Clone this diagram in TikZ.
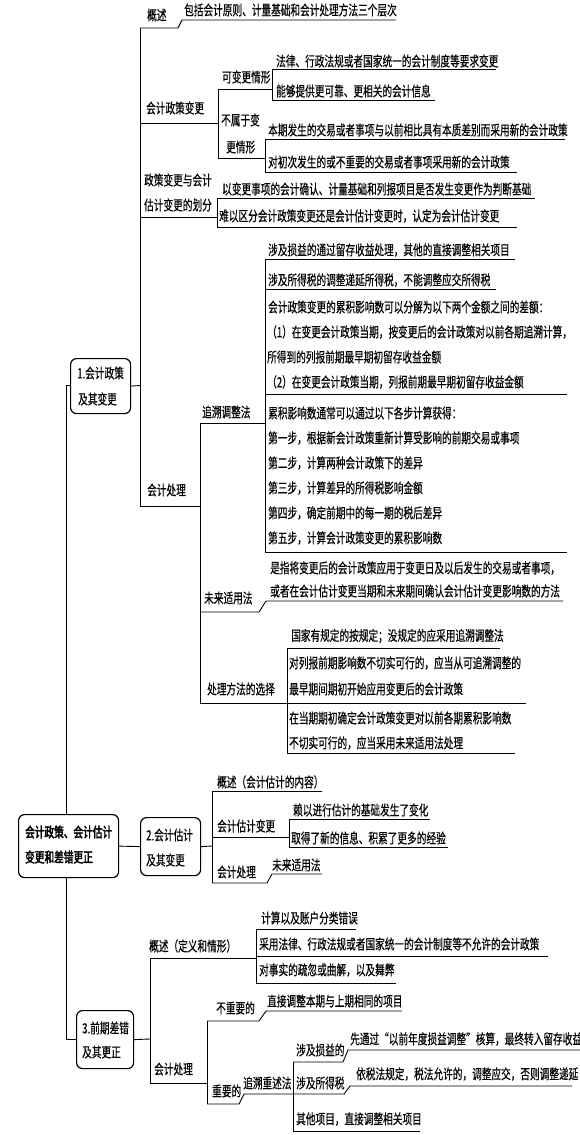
\documentclass[tikz,border=0pt]{standalone}
\usepackage{fontspec}
\setmainfont{Noto Sans CJK SC}[FakeStretch=0.69,FakeBold=0.4]
\newfontfamily\rootfont{Noto Sans CJK SC}[FakeStretch=0.69,FakeBold=2.6]
\begin{document}
\begin{tikzpicture}[x=1pt,y=-1pt,
  t/.style={anchor=west,inner sep=0pt,font=\fontsize{14}{16}\selectfont},
  ln/.style={line width=0.9pt,line join=miter},
  bx/.style={draw,rounded corners=6pt,line width=1.2pt,fill=white,anchor=north west,inner sep=0pt}]
\fill[white] (0,0) rectangle (580,1135);
\useasboundingbox (0,0) rectangle (580,1135);

% root spine
\draw[ln] (70,385.5) -- (66,385.5) -- (66,1039) -- (76,1039);

% ===== section 1 =====
\node[t] (a1) at (147,15) {概述};
\node[t] (a2) at (184,10) {包括会计原则、计量基础和会计处理方法三个层次};
\draw[ln] (140,28) -- (178,28) -- (182,20) -- (396,20);
\draw[ln] (140,28) -- (140,506);

\node[t] (a3) at (146,108) {会计政策变更};
\draw[ln] (140,123) -- (218,123);
\draw[ln] (218,89) -- (218,158);
\node[t] (a4) at (222,77) {可变更情形};
\draw[ln] (218,89) -- (272,89);
\draw[ln] (272,69) -- (272,100);
\node[t] (a5) at (276,61) {法律、行政法规或者国家统一的会计制度等要求变更};
\draw[ln] (272,69) -- (496,69);
\node[t] (a6) at (276,91) {能够提供更可靠、更相关的会计信息};
\draw[ln] (272,100) -- (435,100);
\node[t] (a7) at (221,120) {不属于变};
\node[t] (a7b) at (226,147) {更情形};
\draw[ln] (218,158) -- (265,158);
\draw[ln] (265,139) -- (265,172);
\node[t] (a8) at (268,130) {本期发生的交易或者事项与以前相比具有本质差别而采用新的会计政策};
\draw[ln] (265,139) -- (565,139);
\node[t] (a9) at (268,162) {对初次发生的或不重要的交易或者事项采用新的会计政策};
\draw[ln] (265,172) -- (517,172);

\node[t] (a10) at (144,180) {政策变更与会计};
\node[t] (a10b) at (144,205) {估计变更的划分};
\draw[ln] (140,217) -- (217,217);
\draw[ln] (217,198) -- (217,227);
\node[t] (a11) at (222,189) {以变更事项的会计确认、计量基础和列报项目是否发生变更作为判断基础};
\draw[ln] (217,198) -- (535,198);
\node[t] (a12) at (219,216) {难以区分会计政策变更还是会计估计变更时，认定为会计估计变更};
\draw[ln] (217,227) -- (517,227);

\node[t] (a13) at (147,490) {会计处理};
\draw[ln] (140,506) -- (200,506);
\draw[ln] (200,423) -- (200,703);
\node[t] (a14) at (202,412) {追溯调整法};
\draw[ln] (200,423) -- (265,423);
\draw[ln] (265,259) -- (265,552);
\node[t] (a15) at (268,250) {涉及损益的通过留存收益处理，其他的直接调整相关项目};
\draw[ln] (265,259) -- (515,259);
\node[t] (a16) at (268,280) {涉及所得税的调整递延所得税，不能调整应交所得税};
\draw[ln] (265,289) -- (496,289);
\node[t] (a17) at (268,307) {会计政策变更的累积影响数可以分解为以下两个金额之间的差额：};
\node[t] (a17b) at (267,332) {（1）在变更会计政策当期，按变更后的会计政策对以前各期追溯计算，};
\node[t] (a17c) at (267,357) {所得到的列报前期最早期初留存收益金额};
\node[t] (a17d) at (267,382) {（2）在变更会计政策当期，列报前期最早期初留存收益金额};
\draw[ln] (265,394) -- (567,394);
\node[t] (a18) at (268,413) {累积影响数通常可以通过以下各步计算获得：};
\node[t] (a18a) at (268,438) {第一步，根据新会计政策重新计算受影响的前期交易或事项};
\node[t] (a18b) at (268,463) {第二步，计算两种会计政策下的差异};
\node[t] (a18c) at (268,488) {第三步，计算差异的所得税影响金额};
\node[t] (a18d) at (268,513) {第四步，确定前期中的每一期的税后差异};
\node[t] (a18e) at (268,538) {第五步，计算会计政策变更的累积影响数};
\draw[ln] (265,552) -- (567,552);

\node[t] (a20) at (270,568) {是指将变更后的会计政策应用于变更日及以后发生的交易或者事项，};
\node[t] (a20b) at (270,591) {或者在会计估计变更当期和未来期间确认会计估计变更影响数的方法};
\node[t] (a21) at (204,598) {未来适用法};
\draw[ln] (200,612) -- (259,612) -- (266,601) -- (563,601);

\node[t] (a22) at (291,636) {国家有规定的按规定；没规定的应采用追溯调整法};
\draw[ln] (287,648) -- (500,648);
\draw[ln] (287,648) -- (287,753);
\node[t] (a23) at (289,663) {对列报前期影响数不切实可行的，应当从可追溯调整的};
\node[t] (a23b) at (289,689) {最早期间期初开始应用变更后的会计政策};
\draw[ln] (287,703) -- (526,703);
\node[t] (a24) at (207,689) {处理方法的选择};
\draw[ln] (200,703) -- (287,703);
\node[t] (a25) at (289,718) {在当期期初确定会计政策变更对以前各期累积影响数};
\node[t] (a25b) at (289,743) {不切实可行的，应当采用未来适用法处理};
\draw[ln] (287,753) -- (515,753);

% ===== section 2 =====
\draw[ln] (212,791) -- (212,883);
\node[t] (c1) at (217,782) {概述（会计估计的内容）};
\draw[ln] (212,791) -- (322,791);
\node[t] (c2) at (217,826) {会计估计变更};
\draw[ln] (212,837) -- (289,837);
\draw[ln] (289,819) -- (289,847);
\node[t] (c3) at (293,810) {赖以进行估计的基础发生了变化};
\draw[ln] (289,819) -- (430,819);
\node[t] (c4) at (291,838) {取得了新的信息、积累了更多的经验};
\draw[ln] (289,847) -- (448,847);
\node[t] (c5) at (217,872) {会计处理};
\node[t] (c6) at (272,865) {未来适用法};
\draw[ln] (212,883) -- (267,883) -- (272,874) -- (322,874);

% ===== section 3 =====
\draw[ln] (150,958) -- (150,1083);
\node[t] (d1) at (149,946) {概述（定义和情形）};
\draw[ln] (150,958) -- (256,958);
\draw[ln] (256,929) -- (256,983);
\node[t] (d2) at (261,918) {计算以及账户分类错误};
\draw[ln] (256,929) -- (356,929);
\node[t] (d3) at (259,944) {采用法律、行政法规或者国家统一的会计制度等不允许的会计政策};
\draw[ln] (256,956) -- (548,956);
\node[t] (d4) at (259,970) {对事实的疏忽或曲解，以及舞弊};
\draw[ln] (256,983) -- (396,983);
\node[t] (d5) at (154,1069) {会计处理};
\draw[ln] (150,1083) -- (207,1083);
\draw[ln] (207,1021) -- (207,1104);
\node[t] (d6) at (216,1008) {不重要的};
\node[t] (d7) at (267,1001) {直接调整本期与上期相同的项目};
\draw[ln] (207,1021) -- (259,1021) -- (266,1011) -- (402,1011);
\node[t] (d8) at (212,1091) {重要的};
\node[t] (d9) at (243,1083) {追溯重述法};
\draw[ln] (207,1104) -- (239,1104) -- (244,1094) -- (344,1094) -- (350,1086) -- (572,1086);
\draw[ln] (293,1062) -- (293,1131);
\node[t] (d10) at (296,1050) {涉及损益的};
\node[t] (d11) at (350,1039) {先通过“以前年度损益调整”核算，最终转入留存收益};
\draw[ln] (293,1062) -- (343,1062) -- (348,1050) -- (580,1050);
\node[t] (d12) at (296,1083) {涉及所得税};
\node[t] (d13) at (356,1074) {依税法规定，税法允许的，调整应交，否则调整递延};
\node[t] (d14) at (296,1119) {其他项目，直接调整相关项目};
\draw[ln] (293,1131) -- (420,1131);

% ===== boxes =====
\node[bx,minimum width=60pt,minimum height=55pt] (b1) at (70,358) {};
\node[t] (b1t) at (77,373) {1.会计政策};
\node[t] (b1u) at (78,399) {及其变更};
\draw[ln] (b1.east) -- (140,385.5);

\node[bx,minimum width=100pt,minimum height=63pt] (root) at (18,814) {};
\node[t,font=\fontsize{14}{16}\rootfont] (r1) at (25,832) {会计政策、会计估计};
\node[t,font=\fontsize{14}{16}\rootfont] (r2) at (25,857) {变更和差错更正};

\node[bx,minimum width=60pt,minimum height=58pt] (b2) at (140,817) {};
\node[t] (b2t) at (146,835) {2.会计估计};
\node[t] (b2u) at (146,860) {及其变更};
\draw[ln] (root.east) -- (b2.west);
\draw[ln] (b2.east) -- (212,846);

\node[bx,minimum width=57pt,minimum height=58pt] (b3) at (76,1010) {};
\node[t] (b3t) at (82,1028) {3.前期差错};
\node[t] (b3u) at (82,1052) {及其更正};
\draw[ln] (b3.east) -- (150,1039);
\end{tikzpicture}
\end{document}
